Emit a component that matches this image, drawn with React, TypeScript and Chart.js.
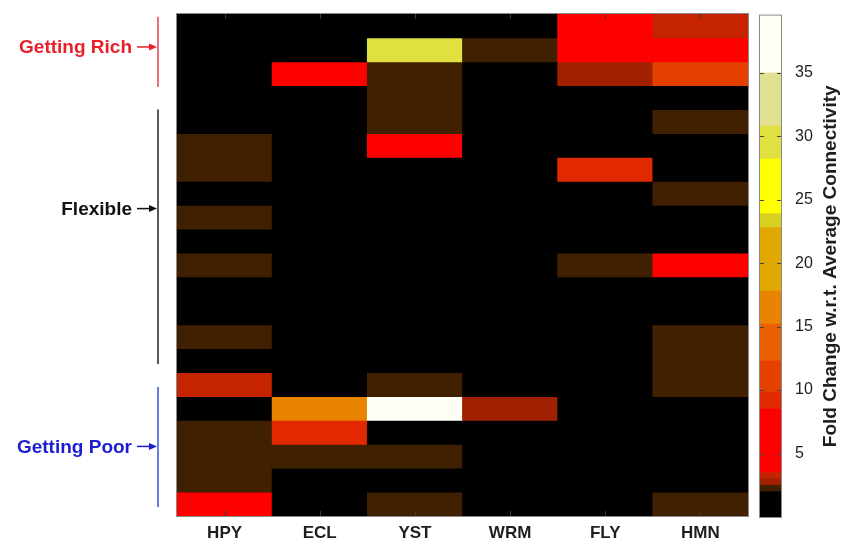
import React, { useEffect, useRef } from 'react';
import { Chart, registerables } from 'chart.js';

Chart.register(...registerables);
Chart.defaults.font.family = '"Liberation Sans", Arial, sans-serif';

// ---- data ----
const COLUMNS = ['HPY', 'ECL', 'YST', 'WRM', 'FLY', 'HMN'];
const ROW_COUNT = 21;
// fold change per row (top to bottom) for each organism
const HPY = [0.5, 0.5, 0.5, 0.5, 0.5, 2.2, 2.2, 0.5, 2.2, 0.5, 2.2, 0.5, 0.5, 2.2, 0.5, 3.3, 0.5, 2.2, 2.2, 2.2, 6.0];
const ECL = [0.5, 0.5, 6.0, 0.5, 0.5, 0.5, 0.5, 0.5, 0.5, 0.5, 0.5, 0.5, 0.5, 0.5, 0.5, 0.5, 16.5, 9.2, 2.2, 0.5, 0.5];
const YST = [0.5, 29.5, 2.2, 2.2, 2.2, 6.0, 0.5, 0.5, 0.5, 0.5, 0.5, 0.5, 0.5, 0.5, 0.5, 2.2, 37.0, 0.5, 2.2, 0.5, 2.2];
const WRM = [0.5, 2.2, 0.5, 0.5, 0.5, 0.5, 0.5, 0.5, 0.5, 0.5, 0.5, 0.5, 0.5, 0.5, 0.5, 0.5, 2.8, 0.5, 0.5, 0.5, 0.5];
const FLY = [6.0, 6.0, 2.8, 0.5, 0.5, 0.5, 9.2, 0.5, 0.5, 0.5, 2.2, 0.5, 0.5, 0.5, 0.5, 0.5, 0.5, 0.5, 0.5, 0.5, 0.5];
const HMN = [3.3, 6.0, 11.0, 0.5, 2.2, 0.5, 0.5, 2.2, 0.5, 0.5, 6.0, 0.5, 0.5, 2.2, 2.2, 2.2, 0.5, 0.5, 0.5, 0.5, 2.2];

// colour scale (step colormap)
const COLORBAR_EDGES = [0, 2.0, 2.5, 3.0, 3.5, 8.5, 9.8, 12.3, 15.2, 17.8, 22.8, 23.9, 28.2, 30.8, 35.0, 39.5];
const COLORBAR_COLORS = ['#000000', '#402000', '#a02000', '#c62400', '#ff0000', '#e22800', '#e44000', '#e86000', '#e88400', '#e0a800', '#d8d020', '#ffff00', '#e0e040', '#e0e090', '#fffff6'];
const COLORBAR_TICKS = [5, 10, 15, 20, 25, 30, 35];
const COLORBAR_TITLE = 'Fold Change w.r.t. Average Connectivity';

// row groups at the left
const GROUP_LABELS = ['Getting Rich', 'Flexible', 'Getting Poor'];
const GROUP_TEXT_COLORS = ['#e8202a', '#111111', '#1c1cd0'];
const GROUP_LINE_COLORS = ['#e84050', '#222222', '#3050e0'];
const GROUP_FROM = [0.12, 4.0, 15.6];
const GROUP_TO = [3.05, 14.64, 20.62];
const GROUP_ARROW = [1.38, 8.14, 18.09];

const MATRIX = [HPY, ECL, YST, WRM, FLY, HMN];

function colorFor(v: number): string {
  for (let i = 0; i < COLORBAR_COLORS.length; i++) {
    if (v >= COLORBAR_EDGES[i] && v < COLORBAR_EDGES[i + 1]) return COLORBAR_COLORS[i];
  }
  return COLORBAR_COLORS[COLORBAR_COLORS.length - 1];
}

const heatDecor = {
  id: 'heatDecor',
  beforeDatasetsDraw(chart: any) {
    const { ctx, chartArea: a } = chart;
    ctx.save();
    ctx.fillStyle = COLORBAR_COLORS[0];
    ctx.fillRect(a.left, a.top, a.width, a.height);
    ctx.restore();
  },
  afterDraw(chart: any) {
    const { ctx, chartArea: a, scales } = chart;
    const xs = scales.x;
    const ys = scales.y;
    ctx.save();
    // plot frame
    ctx.strokeStyle = '#8a8a8a';
    ctx.lineWidth = 1;
    ctx.strokeRect(a.left - 0.5, a.top - 0.5, a.width + 1, a.height + 1);
    // small inside ticks
    ctx.strokeStyle = '#3a3a3a';
    COLUMNS.forEach((_, i) => {
      const px = Math.round(xs.getPixelForValue(i)) + 0.5;
      ctx.beginPath();
      ctx.moveTo(px, a.top);
      ctx.lineTo(px, a.top + 5);
      ctx.moveTo(px, a.bottom);
      ctx.lineTo(px, a.bottom - 5);
      ctx.stroke();
    });
    // group annotations
    const lineX = 158;
    GROUP_LABELS.forEach((label, i) => {
      ctx.strokeStyle = GROUP_LINE_COLORS[i];
      ctx.lineWidth = 1.5;
      ctx.beginPath();
      ctx.moveTo(lineX, ys.getPixelForValue(GROUP_FROM[i]));
      ctx.lineTo(lineX, ys.getPixelForValue(GROUP_TO[i]));
      ctx.stroke();
      const ay = ys.getPixelForValue(GROUP_ARROW[i]);
      ctx.fillStyle = GROUP_TEXT_COLORS[i];
      ctx.font = 'bold 19px "Liberation Sans", Arial, sans-serif';
      ctx.textAlign = 'right';
      ctx.textBaseline = 'middle';
      ctx.fillText(label, 132, ay + 1);
      ctx.strokeStyle = GROUP_TEXT_COLORS[i];
      ctx.lineWidth = 1.5;
      ctx.beginPath();
      ctx.moveTo(137, ay);
      ctx.lineTo(151, ay);
      ctx.stroke();
      ctx.beginPath();
      ctx.moveTo(157, ay);
      ctx.lineTo(149, ay - 3.5);
      ctx.lineTo(149, ay + 3.5);
      ctx.closePath();
      ctx.fill();
    });
    ctx.restore();
  },
};

const barDecor = {
  id: 'barDecor',
  afterDraw(chart: any) {
    const { ctx, chartArea: a, scales } = chart;
    const ys = scales.y;
    ctx.save();
    ctx.strokeStyle = '#8a8a8a';
    ctx.lineWidth = 1;
    ctx.strokeRect(a.left - 0.5, a.top - 0.5, a.width + 1, a.height + 1);
    ctx.strokeStyle = '#444444';
    COLORBAR_TICKS.forEach((t) => {
      const py = Math.round(ys.getPixelForValue(t)) + 0.5;
      ctx.beginPath();
      ctx.moveTo(a.left, py);
      ctx.lineTo(a.left + 4, py);
      ctx.moveTo(a.right, py);
      ctx.lineTo(a.right - 4, py);
      ctx.stroke();
    });
    ctx.translate(831, (a.top + a.bottom) / 2);
    ctx.rotate(-Math.PI / 2);
    ctx.fillStyle = '#1e1e1e';
    ctx.font = 'bold 19px "Liberation Sans", Arial, sans-serif';
    ctx.textAlign = 'center';
    ctx.textBaseline = 'middle';
    ctx.fillText(COLORBAR_TITLE, 0, 0);
    ctx.restore();
  },
};

export default function App() {
  const heatRef = useRef<HTMLCanvasElement>(null);
  const barRef = useRef<HTMLCanvasElement>(null);

  useEffect(() => {
    const datasets = Array.from({ length: ROW_COUNT }, (_, r) => ({
      label: 'row ' + (r + 1),
      data: COLUMNS.map(() => [r, r + 1]),
      backgroundColor: MATRIX.map((col) => colorFor(col[r])),
      borderWidth: 0,
      borderSkipped: false,
      inflateAmount: 0.4,
      barPercentage: 1,
      categoryPercentage: 1,
      grouped: false,
    }));
    const heat = new Chart(heatRef.current!, {
      type: 'bar',
      data: { labels: COLUMNS, datasets: datasets as any },
      options: {
        animation: false,
        responsive: false,
        maintainAspectRatio: false,
        layout: { padding: { left: 177, right: 106, top: 14, bottom: 0 } },
        plugins: { legend: { display: false }, tooltip: { enabled: false } },
        scales: {
          x: {
            grid: { display: false },
            border: { display: false },
            ticks: { color: '#1e1e1e', font: { size: 17, weight: 'bold' }, padding: -1 },
            afterFit: (s: any) => { s.height = 26; },
          },
          y: { display: false, reverse: true, min: 0, max: ROW_COUNT },
        },
      },
      plugins: [heatDecor],
    });

    const cbSets = COLORBAR_COLORS.map((c, i) => ({
      label: 'seg' + i,
      data: [[COLORBAR_EDGES[i], COLORBAR_EDGES[i + 1]]],
      backgroundColor: c,
      borderWidth: 0,
      borderSkipped: false,
      barPercentage: 1,
      categoryPercentage: 1,
      grouped: false,
    }));
    const bar = new Chart(barRef.current!, {
      type: 'bar',
      data: { labels: [''], datasets: cbSets as any },
      options: {
        animation: false,
        responsive: false,
        maintainAspectRatio: false,
        layout: { padding: { left: 760, right: 0, top: 14, bottom: 25 } },
        plugins: { legend: { display: false }, tooltip: { enabled: false } },
        scales: {
          x: { display: false },
          y: {
            position: 'right',
            min: 0,
            max: COLORBAR_EDGES[COLORBAR_EDGES.length - 1],
            grid: { display: false },
            border: { display: false },
            ticks: { color: '#1e1e1e', font: { size: 16 }, padding: 6, stepSize: 5 },
            afterBuildTicks: (s: any) => {
              s.ticks = COLORBAR_TICKS.map((v) => ({ value: v }));
            },
            afterFit: (s: any) => { s.width = 73; },
          },
        },
      },
      plugins: [barDecor],
    });

    return () => {
      heat.destroy();
      bar.destroy();
    };
  }, []);

  return (
    <div style={{ position: 'fixed', left: 0, top: 0, width: 854, height: 542, background: '#ffffff', overflow: 'hidden' }}>
      <canvas ref={heatRef} width={854} height={542} style={{ position: 'absolute', left: 0, top: 0 }} />
      <canvas ref={barRef} width={854} height={542} style={{ position: 'absolute', left: 0, top: 0 }} />
    </div>
  );
}
